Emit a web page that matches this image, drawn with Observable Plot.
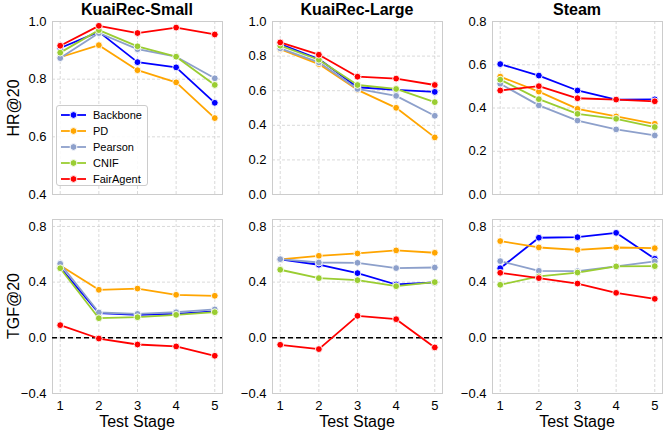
<!DOCTYPE html>
<html><head><meta charset="utf-8">
<script src="https://cdn.jsdelivr.net/npm/d3@7"></script>
<script src="https://cdn.jsdelivr.net/npm/@observablehq/plot@0.6"></script>
<style>
body{margin:0;background:#fff;font-family:"Liberation Sans",Arial,sans-serif;}
#chart{position:relative;width:664px;height:431px;overflow:hidden;background:#fff;}
.abs{position:absolute;}
.title{font-weight:bold;font-size:16px;text-align:center;width:200px;line-height:20px;color:#000;}
.ylab{font-size:16px;line-height:20px;width:180px;text-align:center;transform:rotate(-90deg);transform-origin:center center;color:#000;}
.xlab{font-size:16px;line-height:20px;width:200px;text-align:center;color:#000;}
#legend{left:56px;top:105px;width:92px;height:81px;border:1px solid #ccc;border-radius:3px;background:rgba(255,255,255,0.85);box-sizing:border-box;}
.lrow{position:absolute;left:2px;height:16px;display:flex;align-items:center;font-size:11px;color:#000;}
.lrow svg{margin-right:6px;}
</style></head><body><div id="chart"></div>
<script>
const stages = [1, 2, 3, 4, 5];
const methods = ["Backbone", "PD", "Pearson", "CNIF", "FairAgent"];
const colors = ["#0000ff", "#ffa500", "#8da0cb", "#9acd32", "#ff0000"];
const datasets = ["KuaiRec-Small", "KuaiRec-Large", "Steam"];
const metrics = ["HR@20", "TGF@20"];

// rows: Backbone, PD, Pearson, CNIF, FairAgent ; columns: stages 1..5
const hrSmall = [
  [0.908, 0.964, 0.859, 0.841, 0.718],
  [0.876, 0.918, 0.831, 0.789, 0.665],
  [0.873, 0.960, 0.904, 0.878, 0.803],
  [0.892, 0.970, 0.914, 0.878, 0.780],
  [0.916, 0.985, 0.960, 0.979, 0.955]
];
const hrLarge = [
  [0.870, 0.783, 0.620, 0.605, 0.593],
  [0.840, 0.754, 0.605, 0.501, 0.330],
  [0.845, 0.764, 0.610, 0.570, 0.455],
  [0.860, 0.779, 0.633, 0.610, 0.534],
  [0.879, 0.808, 0.681, 0.670, 0.633]
];
const hrSteam = [
  [0.603, 0.550, 0.481, 0.439, 0.440],
  [0.545, 0.476, 0.396, 0.361, 0.327],
  [0.512, 0.412, 0.342, 0.301, 0.273],
  [0.531, 0.441, 0.373, 0.350, 0.312],
  [0.481, 0.501, 0.445, 0.439, 0.431]
];
const tgfSmall = [
  [0.505, 0.177, 0.165, 0.172, 0.190],
  [0.520, 0.345, 0.354, 0.309, 0.302],
  [0.532, 0.182, 0.172, 0.184, 0.204],
  [0.500, 0.141, 0.148, 0.165, 0.184],
  [0.091, -0.005, -0.048, -0.062, -0.129]
];
const tgfLarge = [
  [0.563, 0.525, 0.465, 0.383, 0.398],
  [0.563, 0.589, 0.606, 0.628, 0.611],
  [0.565, 0.541, 0.539, 0.501, 0.505],
  [0.489, 0.429, 0.414, 0.371, 0.400],
  [-0.050, -0.081, 0.158, 0.134, -0.069]
];
const tgfSteam = [
  [0.500, 0.719, 0.723, 0.754, 0.568],
  [0.695, 0.649, 0.632, 0.649, 0.644],
  [0.551, 0.481, 0.479, 0.513, 0.549],
  [0.381, 0.441, 0.469, 0.513, 0.515],
  [0.467, 0.429, 0.390, 0.323, 0.280]
];
const hrTicks = [[0.4, 0.6, 0.8, 1.0], [0, 0.2, 0.4, 0.6, 0.8, 1.0], [0, 0.2, 0.4, 0.6, 0.8]];
const hrDomains = [[0.4, 1.0], [0, 1.0], [0, 0.8]];
const tgfTicks = [-0.4, 0, 0.4, 0.8];
const tgfDomain = [-0.4, 0.85];

const chart = document.getElementById("chart");
const grids = [hrSmall, hrLarge, hrSteam, tgfSmall, tgfLarge, tgfSteam];

function tidy(mat) {
  const out = [];
  mat.forEach((row, i) => row.forEach((v, j) => out.push({stage: stages[j], value: v, method: methods[i]})));
  return out;
}

// layout: frames
const colFrames = [[52, 222], [272, 442], [492, 662]];
const colSvgLeft = [0, 222, 442];
const colSvgRight = [224, 444, 664];
const rowFrames = [[21, 194], [219, 393]];
const rowSvgTop = [0, 196];
const rowSvgBottom = [196, 431];

for (let r = 0; r < 2; r++) {
  for (let c = 0; c < 3; c++) {
    const data = tidy(grids[r * 3 + c]);
    const ticks = r === 0 ? hrTicks[c] : tgfTicks;
    const domain = r === 0 ? hrDomains[c] : tgfDomain;
    const left = colSvgLeft[c], right = colSvgRight[c];
    const top = rowSvgTop[r], bottom = rowSvgBottom[r];
    const marks = [
      Plot.gridY(ticks, {stroke: "#d0d0d0", strokeOpacity: 1, strokeDasharray: "3,2", strokeWidth: 0.8}),
      Plot.gridX(stages, {stroke: "#d0d0d0", strokeOpacity: 1, strokeDasharray: "3,2", strokeWidth: 0.8}),
      Plot.frame({stroke: "#cccccc", strokeWidth: 1}),
      Plot.axisY(ticks, {tickSize: 0, tickPadding: 6, tickFormat: d3.format(".1f"), fontSize: 13, label: null})
    ];
    if (r === 1) {
      marks.push(Plot.axisX(stages, {tickSize: 0, tickPadding: 7, fontSize: 13, label: null}));
      marks.push(Plot.ruleY([0], {stroke: "#000", strokeWidth: 1.5, strokeDasharray: "5,3"}));
    }
    methods.forEach(m => {
      const d = data.filter(e => e.method === m);
      marks.push(Plot.line(d, {x: "stage", y: "value", stroke: "method", strokeWidth: 1.8}));
      marks.push(Plot.dot(d, {x: "stage", y: "value", fill: "method", stroke: "#fff", strokeWidth: 0.9, r: 3.4}));
    });
    const svg = Plot.plot({
      width: right - left,
      height: bottom - top,
      marginLeft: colFrames[c][0] - left,
      marginRight: right - colFrames[c][1],
      marginTop: rowFrames[r][0] - top,
      marginBottom: bottom - rowFrames[r][1],
      x: {domain: [0.8, 5.2], axis: null},
      y: {domain, axis: null},
      color: {domain: methods, range: colors},
      style: {fontFamily: '"Liberation Sans", Arial, sans-serif', color: "#000", background: "transparent", overflow: "visible"},
      marks
    });
    svg.style.position = "absolute";
    svg.style.left = left + "px";
    svg.style.top = top + "px";
    chart.appendChild(svg);
  }
}

// titles
datasets.forEach((t, c) => {
  const d = document.createElement("div");
  d.className = "abs title";
  d.textContent = t;
  const cx = (colFrames[c][0] + colFrames[c][1]) / 2;
  d.style.left = (cx - 100) + "px";
  d.style.top = "0px";
  chart.appendChild(d);
});
// y labels
metrics.forEach((t, r) => {
  const d = document.createElement("div");
  d.className = "abs ylab";
  d.textContent = t;
  const cy = (rowFrames[r][0] + rowFrames[r][1]) / 2;
  d.style.left = (14 - 90) + "px";
  d.style.top = (cy - 10) + "px";
  chart.appendChild(d);
});
// x labels
colFrames.forEach((f, c) => {
  const d = document.createElement("div");
  d.className = "abs xlab";
  d.textContent = "Test Stage";
  const cx = (f[0] + f[1]) / 2;
  d.style.left = (cx - 100) + "px";
  d.style.top = "412px";
  chart.appendChild(d);
});
// legend
const leg = document.createElement("div");
leg.id = "legend";
leg.className = "abs";
methods.forEach((m, i) => {
  const row = document.createElement("div");
  row.className = "lrow";
  row.style.top = (1 + i * 16) + "px";
  row.innerHTML = `<svg width="28" height="10"><line x1="2" x2="27" y1="5" y2="5" stroke="${colors[i]}" stroke-width="1.8"/><circle cx="14.5" cy="5" r="3.4" fill="${colors[i]}" stroke="#fff" stroke-width="0.9"/></svg><span>${m}</span>`;
  leg.appendChild(row);
});
chart.appendChild(leg);
</script></body></html>
